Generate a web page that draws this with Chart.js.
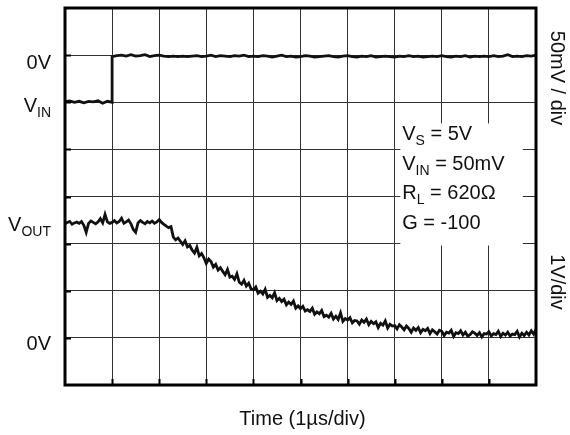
<!DOCTYPE html>
<html>
<head>
<meta charset="utf-8">
<script src="https://cdn.jsdelivr.net/npm/chart.js@4.4.1/dist/chart.umd.min.js"></script>
<style>
  html, body { margin: 0; padding: 0; background: #fff; }
  #wrap { width: 570px; height: 435px; }
</style>
</head>
<body>
<div id="wrap"><canvas id="scope" width="570" height="435"></canvas></div>
<script>
/* ── Data (in scope divisions) ─────────────────────────── */
const X_DIVS = 10;
const Y_DIVS = 8;

// V_IN trace: low level before the step (0..1 div, every 0.1 div)
const vinLow = [6.01, 6.03, 6.00, 6.02, 5.99, 6.02, 6.01, 6.03, 5.98, 6.02, 6.00];
// V_IN trace: after the step (1..10 div, every 0.1 div)
const vinHigh = [
  6.97, 6.99, 7.00, 6.98, 7.01, 6.98, 6.99, 7.01, 6.97, 6.99,
  7.00, 6.98, 6.97, 6.98, 6.97, 6.98, 6.97, 6.98, 6.99, 6.97,
  6.98, 7.00, 6.97, 6.99, 6.98, 6.97, 6.99, 6.98, 7.00, 6.97,
  6.98, 6.97, 6.99, 6.98, 6.96, 6.98, 7.00, 6.97, 6.98, 6.96,
  6.97, 6.99, 6.98, 6.96, 6.97, 6.98, 6.99, 6.97, 6.96, 6.98,
  6.99, 6.97, 6.96, 6.98, 6.97, 6.99, 6.96, 6.97, 6.98, 6.97,
  6.96, 6.98, 6.97, 6.99, 6.97, 6.98, 6.96, 6.97, 6.98, 6.97,
  6.99, 6.97, 6.96, 6.98, 6.97, 6.99, 6.96, 6.98, 6.97, 6.98,
  6.97, 6.99, 6.97, 6.98, 7.01, 6.97, 6.98, 6.97, 6.99, 6.98, 7.00
];
// V_OUT trace (0..10 div, every 0.05 div)
const vout = [
  3.42, 3.45, 3.47, 3.41, 3.44, 3.46, 3.43, 3.47, 3.39, 3.24,
  3.43, 3.48, 3.45, 3.42, 3.46, 3.53, 3.44, 3.62, 3.46, 3.43,
  3.45, 3.49, 3.44, 3.47, 3.54, 3.43, 3.46, 3.50, 3.42, 3.30,
  3.24, 3.44, 3.49, 3.45, 3.42, 3.47, 3.44, 3.48, 3.43, 3.46,
  3.51, 3.45, 3.41, 3.37, 3.34, 3.36, 3.14, 3.08, 3.12, 3.05,
  2.98, 3.06, 2.93, 2.96, 2.86, 2.80, 2.92, 2.74, 2.79, 2.70,
  2.58, 2.67, 2.62, 2.50, 2.56, 2.44, 2.49, 2.41, 2.34, 2.45,
  2.29, 2.31, 2.24, 2.36, 2.18, 2.14, 2.22, 2.10, 2.16, 2.04,
  2.02, 2.08, 1.95, 1.99, 1.93, 2.03, 1.86, 1.90, 1.85, 1.96,
  1.79, 1.84, 1.77, 1.82, 1.70, 1.76, 1.71, 1.78, 1.63, 1.68,
  1.62, 1.67, 1.57, 1.60, 1.56, 1.63, 1.50, 1.55, 1.51, 1.58,
  1.45, 1.48, 1.44, 1.52, 1.40, 1.46, 1.39, 1.53, 1.35, 1.41,
  1.38, 1.43, 1.32, 1.37, 1.36, 1.29, 1.38, 1.33, 1.40, 1.28,
  1.35, 1.30, 1.34, 1.22, 1.31, 1.27, 1.36, 1.21, 1.29, 1.25,
  1.26, 1.19, 1.28, 1.23, 1.17, 1.25, 1.20, 1.12, 1.21, 1.16,
  1.22, 1.11, 1.18, 1.15, 1.20, 1.09, 1.17, 1.13, 1.08, 1.16,
  1.14, 1.05, 1.12, 1.10, 1.16, 1.03, 1.11, 1.09, 1.15, 1.06,
  1.12, 1.04, 1.07, 1.13, 1.10, 1.05, 1.11, 1.02, 1.09, 1.08,
  1.13, 1.04, 1.09, 1.07, 1.14, 1.03, 1.10, 1.06, 1.12, 1.04,
  1.08, 1.07, 1.14, 1.02, 1.10, 1.05, 1.12, 1.06, 1.15, 1.08,
  1.18
];
const VIN_STEP_AT  = 1;     // div
const VIN_DT       = 0.1;   // div per sample
const VOUT_DT      = 0.05;  // div per sample

// Level markers on the left (label, subscript, level in divs)
const leftLabels = [
  { text: '0V', sub: '',    level: 7,    dy: 14 },
  { text: 'V',  sub: 'IN',  level: 6,    dy: 10 },
  { text: 'V',  sub: 'OUT', level: 3.44, dy: 8  },
  { text: '0V', sub: '',    level: 1,    dy: 12 }
];
const condLines = [
  ['V', 'S',  ' = 5V'],
  ['V', 'IN', ' = 50mV'],
  ['R', 'L',  ' = 620Ω'],
  ['G', '',   ' = -100']
];
const xTitle   = 'Time (1µs/div)';
const rightTop = '50mV / div';
const rightBot = '1V/div';

/* ── Build points ──────────────────────────────────────── */
const vinPoints = vinLow.map((v, i) => ({ x: i * VIN_DT, y: v }))
  .concat(vinHigh.map((v, i) => ({ x: VIN_STEP_AT + i * VIN_DT, y: v })));
const voutPoints = vout.map((v, i) => ({ x: i * VOUT_DT, y: v }));

const FONT = "'Liberation Sans', Arial, sans-serif";

function drawSub(ctx, base, sub, rest, x, y, align) {
  ctx.font = `20px ${FONT}`;
  const wb = ctx.measureText(base).width;
  const wr = ctx.measureText(rest).width;
  ctx.font = `14px ${FONT}`;
  const ws = ctx.measureText(sub).width;
  let x0 = align === 'right' ? x - (wb + ws + wr) : x;
  ctx.textAlign = 'left';
  ctx.font = `20px ${FONT}`;
  ctx.fillText(base, x0, y);
  ctx.font = `14px ${FONT}`;
  ctx.fillText(sub, x0 + wb, y + 5);
  ctx.font = `20px ${FONT}`;
  ctx.fillText(rest, x0 + wb + ws, y);
}

/* ── Scope decorations ─────────────────────────────────── */
const scopePlugin = {
  id: 'scope',
  beforeDatasetsDraw(chart) {
    const { ctx, scales: { x, y } } = chart;
    // white panel behind the conditions
    ctx.save();
    ctx.fillStyle = '#fff';
    const l = x.getPixelForValue(7.12), r = x.getPixelForValue(9.72);
    const t = y.getPixelForValue(5.55), b = y.getPixelForValue(2.96);
    ctx.fillRect(l, t, r - l, b - t);
    ctx.restore();
  },
  afterDraw(chart) {
    const { ctx, chartArea: a, scales: { x, y } } = chart;
    ctx.save();
    // frame
    ctx.strokeStyle = '#000';
    ctx.lineWidth = 3;
    ctx.strokeRect(a.left, a.top, a.right - a.left, a.bottom - a.top);
    // inner tick marks on left and bottom borders
    ctx.lineWidth = 2;
    ctx.beginPath();
    for (let i = 1; i < Y_DIVS; i++) {
      const py = Math.round(y.getPixelForValue(i)) + 0.5;
      ctx.moveTo(a.left, py); ctx.lineTo(a.left + 6, py);
    }
    for (let i = 1; i < X_DIVS; i++) {
      const px = Math.round(x.getPixelForValue(i)) + 0.5;
      ctx.moveTo(px, a.bottom); ctx.lineTo(px, a.bottom - 6);
    }
    ctx.stroke();

    ctx.fillStyle = '#111';
    ctx.textBaseline = 'alphabetic';
    // level labels
    leftLabels.forEach(lb => {
      drawSub(ctx, lb.text, lb.sub, '', a.left - 14, y.getPixelForValue(lb.level) + lb.dy, 'right');
    });
    // conditions
    const cx = x.getPixelForValue(7.16);
    condLines.forEach((c, i) => {
      drawSub(ctx, c[0], c[1], c[2], cx, 140 + i * 29.6, 'left');
    });
    // x title
    ctx.font = `20px ${FONT}`;
    ctx.textAlign = 'center';
    ctx.fillText(xTitle, (a.left + a.right) / 2 + 2, 425);
    // right rotated labels
    ctx.textBaseline = 'middle';
    [[rightTop, 78], [rightBot, 282]].forEach(([txt, cy]) => {
      ctx.save();
      ctx.translate(557, cy);
      ctx.rotate(Math.PI / 2);
      ctx.fillText(txt, 0, 0);
      ctx.restore();
    });
    ctx.restore();
  }
};

new Chart(document.getElementById('scope'), {
  type: 'line',
  data: {
    datasets: [
      { label: 'VIN',  data: vinPoints,  borderColor: '#111', borderWidth: 2.8, pointRadius: 0, tension: 0 },
      { label: 'VOUT', data: voutPoints, borderColor: '#111', borderWidth: 2.8, pointRadius: 0, tension: 0 }
    ]
  },
  options: {
    responsive: false,
    animation: false,
    events: [],
    layout: { padding: { left: 65, right: 34, top: 8, bottom: 50 } },
    plugins: { legend: { display: false }, tooltip: { enabled: false } },
    scales: {
      x: {
        type: 'linear', min: 0, max: X_DIVS,
        ticks: { display: false, stepSize: 1 },
        grid: { color: '#333', lineWidth: 1, drawTicks: false },
        border: { display: false }
      },
      y: {
        type: 'linear', min: 0, max: Y_DIVS,
        ticks: { display: false, stepSize: 1 },
        grid: { color: '#333', lineWidth: 1, drawTicks: false },
        border: { display: false }
      }
    }
  },
  plugins: [scopePlugin]
});
</script>
</body>
</html>
